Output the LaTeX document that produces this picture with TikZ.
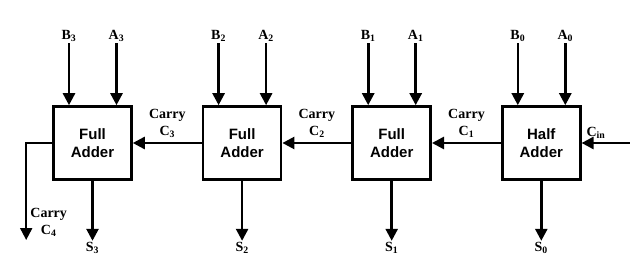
\documentclass[tikz,border=0pt]{standalone}
\usepackage{fontspec}
\setmainfont{Liberation Serif}
\setsansfont{Liberation Sans}
\usepackage{tikz}
\usetikzlibrary{arrows.meta, positioning}

\begin{document}
\begin{tikzpicture}[
  x=1pt, y=1pt,
  node distance=69pt,
  adder/.style={draw, line width=2.6pt, minimum width=78pt, minimum height=73pt,
                align=center, font=\sffamily\bfseries\fontsize{15}{18}\selectfont},
  lbl/.style={font=\bfseries\fontsize{14}{17}\selectfont, inner sep=1pt, align=center},
  arr/.style={-{Triangle[width=12pt,length=12pt]}, line width=2.6pt}
]
\useasboundingbox (0,0) rectangle (630,271);

% the four stages
\node[adder] (fa3) at (92.5,128) {Full\\Adder};
\node[adder, right=69pt of fa3] (fa2) {Full\\Adder};
\node[adder, right=69pt of fa2] (fa1) {Full\\Adder};
\node[adder, right=69pt of fa1] (ha) {Half\\Adder};

% inputs
\node[lbl, above=62pt of fa3.north, xshift=-23.5pt] (b3) {B\textsubscript{3}};
\node[lbl, above=62pt of fa3.north, xshift=24pt] (a3) {A\textsubscript{3}};
\node[lbl, above=62pt of fa2.north, xshift=-23.5pt] (b2) {B\textsubscript{2}};
\node[lbl, above=62pt of fa2.north, xshift=24pt] (a2) {A\textsubscript{2}};
\node[lbl, above=62pt of fa1.north, xshift=-23.5pt] (b1) {B\textsubscript{1}};
\node[lbl, above=62pt of fa1.north, xshift=24pt] (a1) {A\textsubscript{1}};
\node[lbl, above=62pt of ha.north, xshift=-23.5pt] (b0) {B\textsubscript{0}};
\node[lbl, above=62pt of ha.north, xshift=24pt] (a0) {A\textsubscript{0}};

\draw[arr] (b3) -- (b3 |- fa3.north);
\draw[arr] (a3) -- (a3 |- fa3.north);
\draw[arr] (b2) -- (b2 |- fa2.north);
\draw[arr] (a2) -- (a2 |- fa2.north);
\draw[arr] (b1) -- (b1 |- fa1.north);
\draw[arr] (a1) -- (a1 |- fa1.north);
\draw[arr] (b0) -- (b0 |- ha.north);
\draw[arr] (a0) -- (a0 |- ha.north);

% sums
\node[lbl, below=60pt of fa3.south] (s3) {S\textsubscript{3}};
\node[lbl, below=60pt of fa2.south] (s2) {S\textsubscript{2}};
\node[lbl, below=60pt of fa1.south] (s1) {S\textsubscript{1}};
\node[lbl, below=60pt of ha.south] (s0) {S\textsubscript{0}};

\draw[arr] (fa3) -- (s3);
\draw[arr] (fa2) -- (s2);
\draw[arr] (fa1) -- (s1);
\draw[arr] (ha) -- (s0);

% carries
\draw[arr] (fa2) -- node[lbl, above=3pt]{Carry\\C\textsubscript{3}} (fa3);
\draw[arr] (fa1) -- node[lbl, above=3pt]{Carry\\C\textsubscript{2}} (fa2);
\draw[arr] (ha) -- node[lbl, above=3pt]{Carry\\C\textsubscript{1}} (fa1);

\coordinate[right=48pt of ha.east] (cin);
\draw[arr] (cin) -- node[lbl, above=2pt, pos=0.7]{C\textsubscript{in}} (ha);

\coordinate[below left=97pt and 26pt of fa3.west] (c4);
\draw[arr, line width=2pt] (fa3.west) -| (c4);
\node[lbl, anchor=south west] (c4lbl) at ([xshift=3pt,yshift=2pt]c4) {Carry\\C\textsubscript{4}};
\end{tikzpicture}
\end{document}
